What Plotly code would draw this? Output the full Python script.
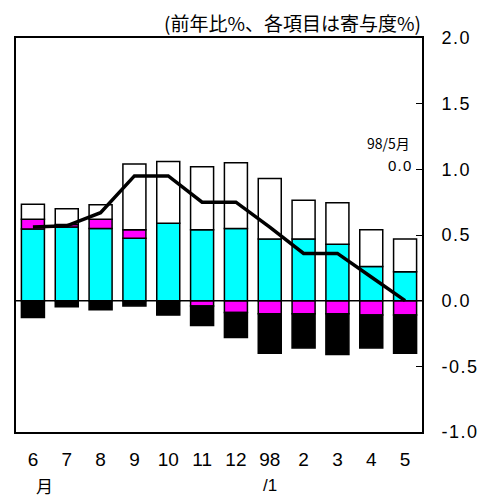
import plotly.graph_objects as go

months = ["6", "7", "8", "9", "10", "11", "12", "98", "2", "3", "4", "5"]
month_sub = {0: "月", 7: "/1"}
cyan_vals = [0.545, 0.56, 0.55, 0.475, 0.59, 0.54, 0.55, 0.47, 0.47, 0.43, 0.26, 0.22]
magenta_vals = [0.075, 0.02, 0.07, 0.065, 0.0, -0.04, -0.09, -0.10, -0.10, -0.10, -0.11, -0.11]
black_vals = [-0.128, -0.047, -0.07, -0.04, -0.11, -0.15, -0.19, -0.30, -0.26, -0.31, -0.25, -0.29]
white_vals = [0.115, 0.12, 0.11, 0.50, 0.47, 0.48, 0.50, 0.46, 0.295, 0.315, 0.28, 0.25]
total_line = [0.56, 0.57, 0.67, 0.95, 0.95, 0.75, 0.75, 0.56, 0.36, 0.36, 0.18, 0.0]
y_ticks = [-1.0, -0.5, 0.0, 0.5, 1.0, 1.5, 2.0]
y_ticktext = ["-1.0", "-0.5", "0.0", "0.5", "1.0", "1.5", "2.0"]

HS = "\u200a"
def spaced(s):
    return HS.join(list(s))

x = list(range(len(months)))
font = "Liberation Sans"
cjk = "Noto Sans CJK JP"

fig = go.Figure()
def bar(vals, color):
    fig.add_trace(go.Bar(x=x, y=vals, width=0.68,
                         marker=dict(color=color, line=dict(color="black", width=1.5)),
                         showlegend=False))
bar(cyan_vals, "#00FFFF")
bar(magenta_vals, "#FF00FF")
bar(black_vals, "#000000")
bar(white_vals, "#FFFFFF")
fig.add_trace(go.Scatter(x=x, y=total_line, mode="lines",
                         line=dict(color="black", width=3.5), showlegend=False))

annotations = [
    dict(text="(前年比%、各項目は寄与度%)", xref="paper", yref="paper",
         x=1.003, y=1.0, xanchor="right", yanchor="bottom", yshift=0,
         showarrow=False, font=dict(family=cjk, size=19)),
    dict(text="98/5月", xref="paper", yref="y", x=0.975, y=1.2,
         xanchor="right", yanchor="middle", showarrow=False,
         font=dict(family=cjk, size=14)),
    dict(text=spaced("0.0"), xref="paper", yref="y", x=0.977, y=1.03,
         xanchor="right", yanchor="middle", showarrow=False,
         font=dict(family=font, size=15)),
]
for i, t in month_sub.items():
    annotations.append(dict(text=t, xref="x", yref="paper", x=i, y=0,
                            xshift=12 if i == 0 else 0, yshift=-53,
                            xanchor="center", yanchor="middle", showarrow=False,
                            font=dict(family=cjk if i == 0 else font, size=17)))

# the page body keeps its default 8px margin, so the figure is sized to fit
fig.update_layout(
    barmode="relative",
    width=477, height=489,
    margin=dict(l=8, r=63, t=30, b=65, autoexpand=False),
    plot_bgcolor="white", paper_bgcolor="white",
    font=dict(family=font, size=15, color="black"),
    shapes=[dict(type="line", xref="paper", x0=0, x1=1, yref="y", y0=0, y1=0,
                 line=dict(color="black", width=1.5))],
    annotations=annotations,
)
fig.update_xaxes(range=[-0.5, 11.5], tickmode="array", tickvals=x, ticktext=months,
                 showline=True, mirror=True, linecolor="black", linewidth=2,
                 ticks="", showgrid=False, zeroline=False, ticklabelstandoff=9,
                 automargin=False, tickfont=dict(family=font, size=19))
fig.update_yaxes(range=[-1, 2], tickmode="array", tickvals=y_ticks,
                 ticktext=[spaced(t) for t in y_ticktext], side="right",
                 showline=True, mirror=True, linecolor="black", linewidth=2,
                 ticks="inside", ticklen=6, tickcolor="black", showgrid=False,
                 zeroline=False, ticklabelstandoff=14, automargin=False,
                 tickfont=dict(family=font, size=18))

fig.write_html("out.html")
